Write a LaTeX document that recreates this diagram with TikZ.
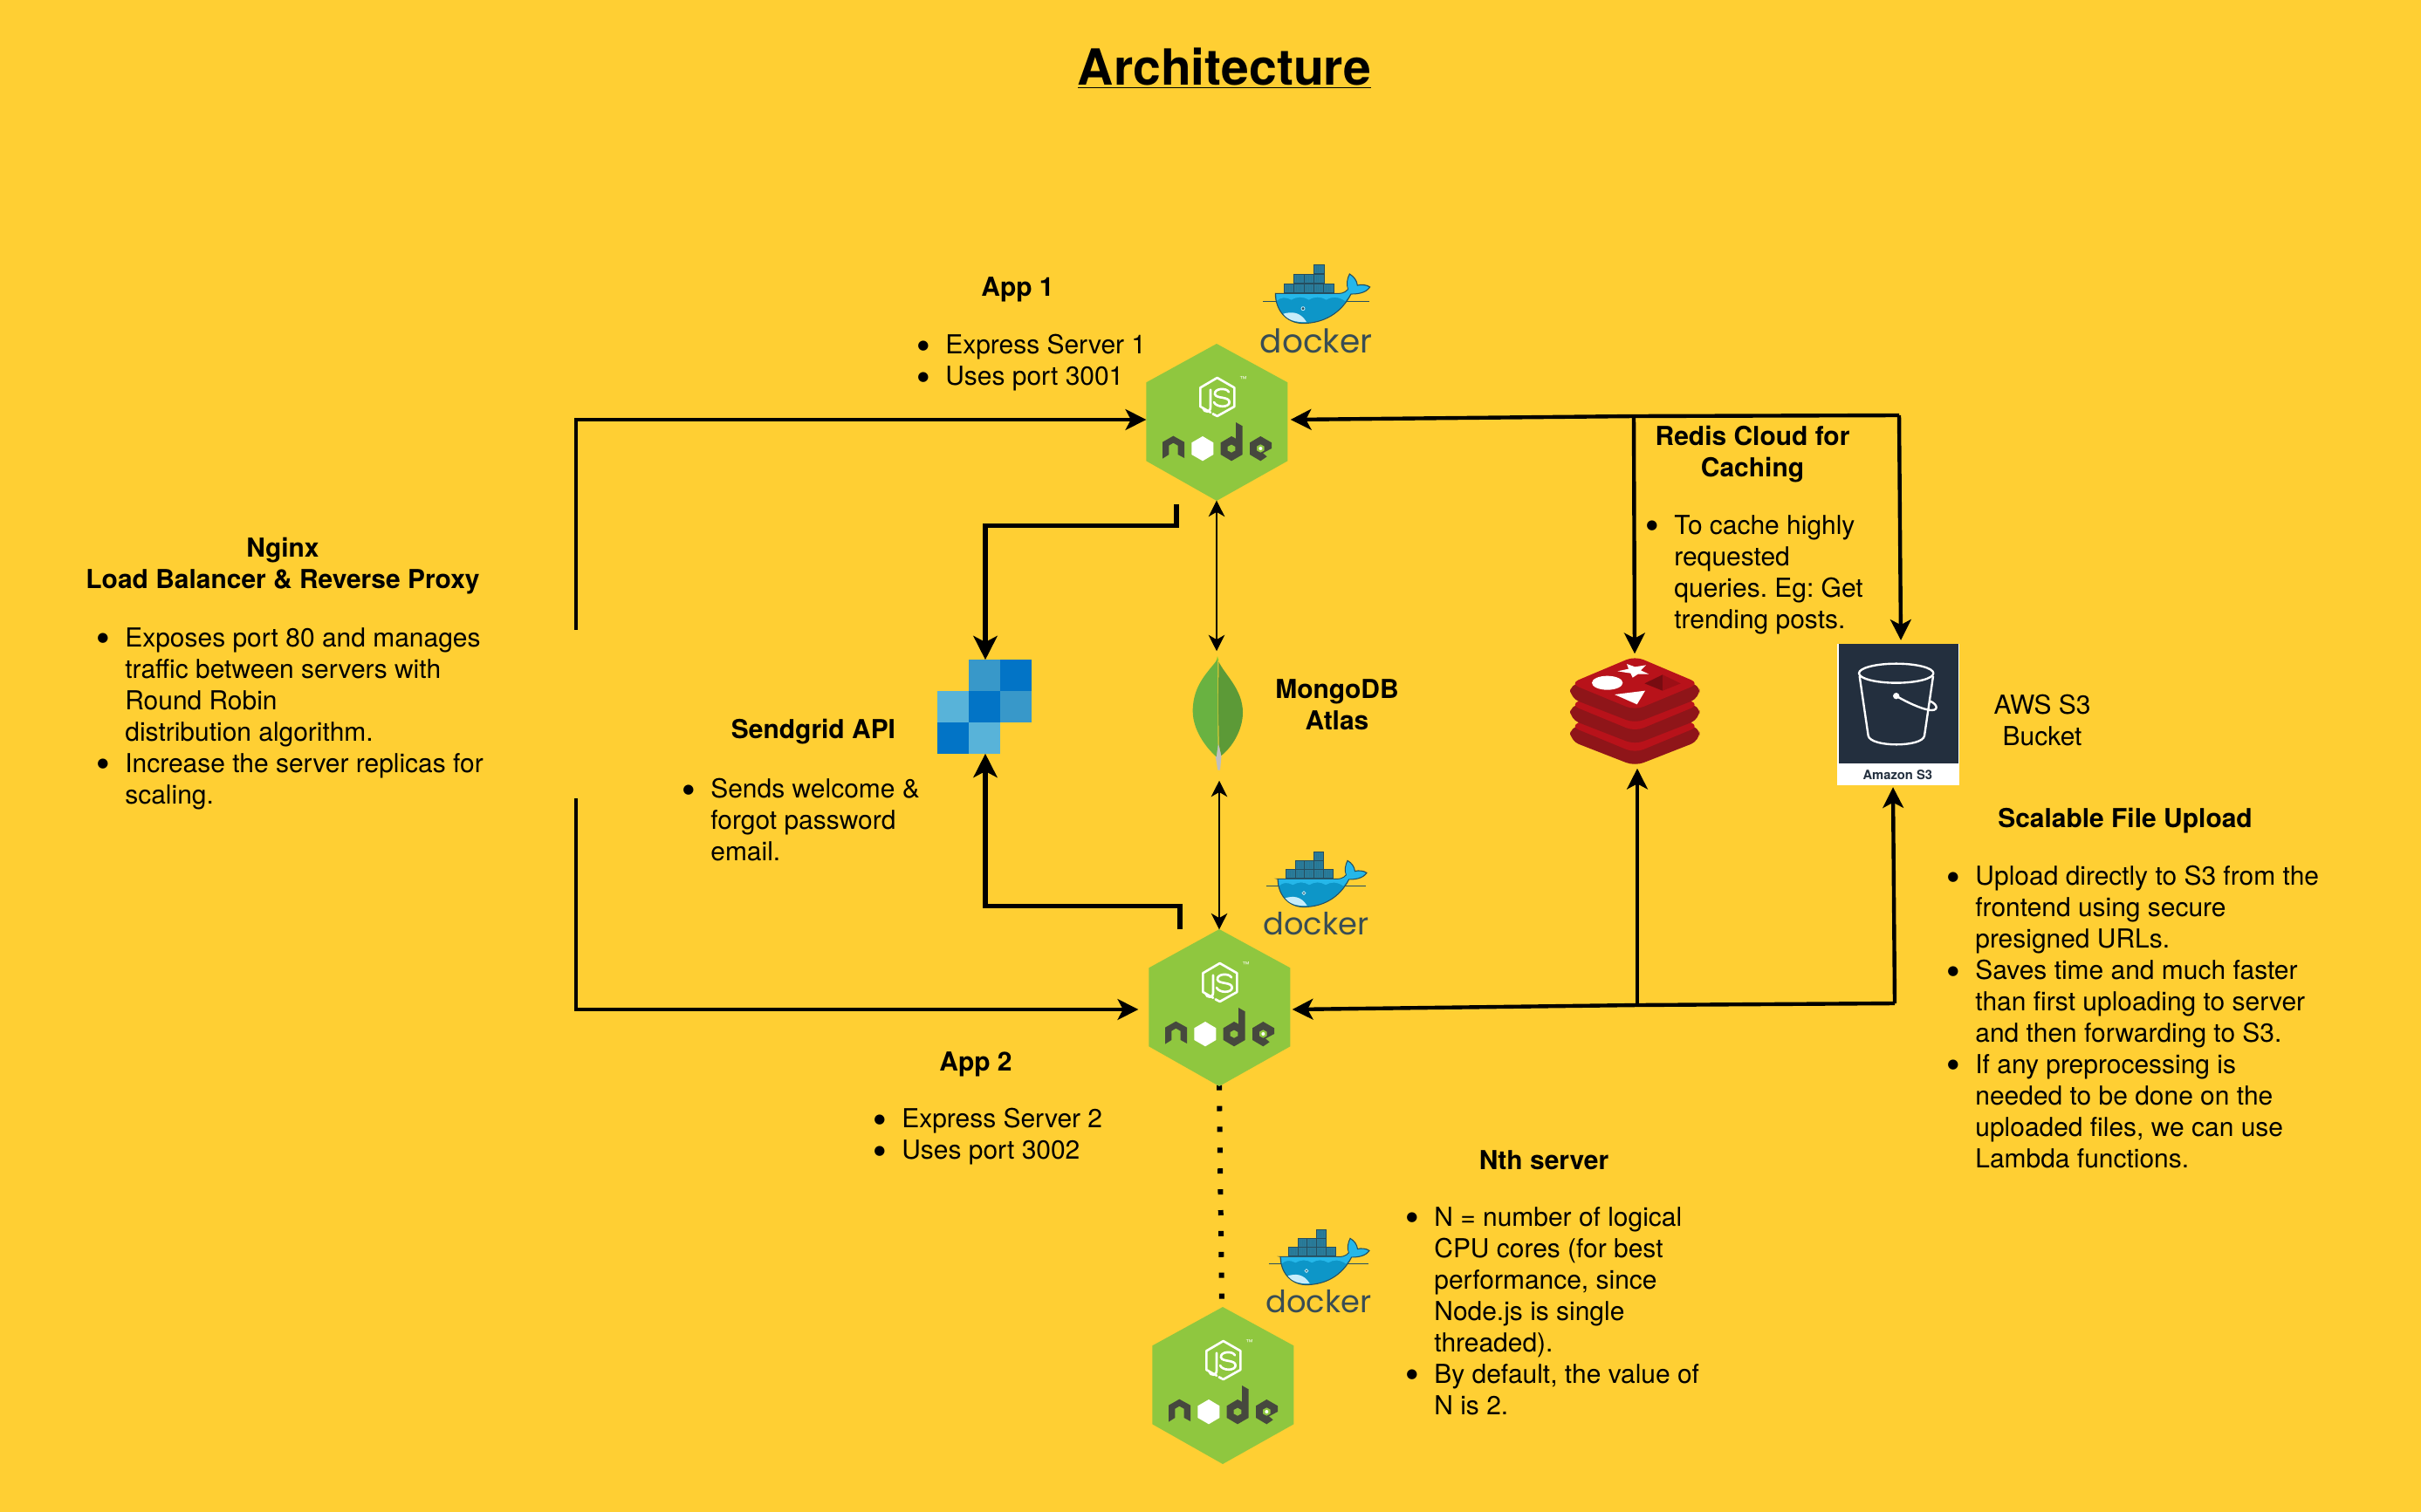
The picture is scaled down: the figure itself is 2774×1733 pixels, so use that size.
\documentclass[tikz,border=0pt]{standalone}
\usepackage{fontspec}
\setmainfont{TeX Gyre Heros}
\newfontfamily\dockerfont{Poppins}
\newfontfamily\bulletfont{DejaVu Sans}
\usetikzlibrary{arrows.meta,calc}
\frenchspacing
\definecolor{bgyellow}{HTML}{FFCF33}
\definecolor{nodegreen}{HTML}{8FC73F}
\definecolor{nodedark}{HTML}{46483E}
\definecolor{dockertxt}{HTML}{394D54}
\definecolor{dockerdeep}{HTML}{0D96C8}
\definecolor{dockerlight}{HTML}{25B7E9}
\definecolor{dockerbox}{HTML}{2B7B99}
\definecolor{dockerline}{HTML}{254E5F}
\definecolor{sgdark}{HTML}{0274C6}
\definecolor{sgmid}{HTML}{3898C9}
\definecolor{sglight}{HTML}{58B3D9}
\definecolor{redistop}{HTML}{B8121A}
\definecolor{redisside}{HTML}{8F1519}
\definecolor{awsdark}{HTML}{232F3E}
\definecolor{leafleft}{HTML}{69B241}
\definecolor{leafright}{HTML}{5C9A37}
\definecolor{leafstem}{HTML}{BFBFBF}
\newcommand{\bl}{\llap{\raisebox{3.2pt}{\fontsize{8.5}{8.5}\bulletfont ●}\hspace{10.75pt}}}
\tikzset{
  x=0.02cm,y=-0.02cm,
  bodytext/.style={inner sep=0,font=\fontsize{17.05}{20.47}\selectfont},
  listtext/.style={bodytext,anchor=north west,align=left},
  headtext/.style={bodytext,align=center,font=\fontsize{17.05}{20.47}\selectfont\bfseries},
  conn/.style={line width=2.5pt,-{Stealth[length=13.5pt,width=13.5pt,inset=3.5pt]}},
  heavy/.style={line width=3pt,-{Stealth[length=15.5pt,width=15.5pt,inset=4pt]}},
  thin2/.style={line width=1.5pt,{Stealth[length=10.5pt,width=10.5pt,inset=3pt]}-{Stealth[length=10.5pt,width=10.5pt,inset=3pt]}},
  holder/.style args={#1x#2}{inner sep=0,outer sep=0,minimum width=#1*0.5669pt,minimum height=#2*0.5669pt},
  nodehex/.pic={
    \begin{scope}[scale=1/3,shift={(-461,-612)}]
      \fill[nodegreen] (461,342)--(705,475)--(705,745)--(461,882)--(219,745)--(219,475)--cycle;
      \draw[white,line width=1.5pt,line join=round,line cap=round]
        (440,578)--(405,558)--(405,493)--(463,459)--(522,493)--(522,558)--(463,591)--(448,583);
      \draw[white,line width=1.5pt,line cap=round]
        (440,500)--(440,560) .. controls (440,580) and (418,578) .. (415,565);
      \draw[white,line width=1.5pt,line cap=round]
        (503,508) .. controls (495,492) and (452,495) .. (455,515) .. controls (458,532) and (505,522) .. (505,543) .. controls (505,562) and (460,562) .. (452,543);
      \fill[nodedark] (275,680)--(312,659)--(350,680)--(350,735)--(328,723)--(328,692)--(312,683)--(297,692)--(297,723)--(275,737)--cycle;
      \fill[white] (413,660)--(450,682)--(450,723)--(413,745)--(375,723)--(375,682)--cycle;
      \fill[nodedark] (475,682)--(512,660)--(527,668)--(527,612)--(550,625)--(550,723)--(512,745)--(475,723)--cycle;
      \fill[nodegreen] (512,689)--(525,696)--(525,709)--(512,716)--(499,709)--(499,696)--cycle;
      \fill[nodedark] (575,682)--(612,660)--(650,682)--(650,702)--(620,718)--(634,730)--(612,745)--(575,723)--cycle;
      \fill[nodegreen] (612,688)--(625,695)--(625,709)--(612,716)--(599,709)--(599,695)--cycle;
      \fill[white] (612,702) circle (6);
      \node[white,inner sep=0,transform shape,font=\fontsize{14}{14}\selectfont] (-tm) at (552,463) {\texttrademark};
    \end{scope}
  },
  dockericon/.pic={
    \begin{scope}[scale={#1/3},shift={(-805,-220)}]
      \foreach \bx/\by in {695/136,729/136,763/136,797/136,831/136,729/103,763/103,797/103,797/70}{
        \filldraw[fill=dockerbox,draw=dockerline,line width=.5pt] (\bx,\by) rectangle ++(35,32);
        \foreach \s in {8,16,24}{\draw[dockerline!60!dockerlight,line width=.3pt] (\bx+\s,\by+5)--(\bx+\s,\by+27);}
      }
      \draw[dockerline,line width=.5pt] (622,196)--(988,196);
      \filldraw[fill=dockerdeep,draw=dockerline,line width=.6pt] (665,170)--(868,170) .. controls (885,172) and (905,170) .. (915,155) .. controls (908,140) and (912,118) .. (920,103) .. controls (935,112) and (945,125) .. (947,142) .. controls (960,138) and (980,140) .. (990,148) .. controls (975,170) and (945,172) .. (925,172) .. controls (890,240) and (830,272) .. (760,273) .. controls (700,272) and (665,225) .. cycle;
      \fill[dockerlight] (668,172)--(868,172) .. controls (885,174) and (905,172) .. (917,157) .. controls (910,140) and (914,120) .. (921,107) .. controls (933,115) and (943,127) .. (945,145) .. controls (960,141) and (976,143) .. (986,149) .. controls (972,167) and (945,170) .. (923,170) .. controls (918,180) and (912,188) .. (905,196)
        .. controls (880,180) and (860,180) .. (840,192) .. controls (820,180) and (800,180) .. (780,192) .. controls (760,180) and (740,180) .. (720,192) .. controls (700,182) and (685,182) .. (670,195) -- cycle;
      \fill[white!75!dockerlight] (692,240) .. controls (720,232) and (750,232) .. (772,268) .. controls (735,270) and (708,262) .. cycle;
      \filldraw[fill=dockerline,draw=white!70!dockerlight,line width=.5pt] (760,222) circle (6);
      \node[dockertxt,inner sep=0,transform shape,font=\fontsize{64}{64}\dockerfont] (-dk) at (805,334) {docker};
    \end{scope}
  },
}
\begin{document}
\begin{tikzpicture}
\useasboundingbox (0,0) rectangle (2774,1733);
\fill[bgyellow] (0,0) rectangle (2774,1733);

% title
\node[inner sep=0,font=\fontsize{32.5}{38}\selectfont\bfseries] (title) at (1403,78) {\underline{Architecture}};

% node hexagons (logo holders)
\node[holder=162x180] (app1) at (1394,484) {};
\node[holder=162x180] (app2) at (1397,1155) {};
\node[holder=162x180] (app3) at (1401,1588) {};

\draw[line width=3.4pt,dash pattern=on 3.4pt off 10.2pt] ($(app2.south)+(0,-1)$) -- ($(app3.north)+(-1,-2)$);

\pic (h1) at (1394,484) {nodehex};
\pic (h2) at (1397,1155) {nodehex};
\pic (h3) at (1401,1588) {nodehex};

\pic (d1) at (1508,353) {dockericon=1};
\pic (d2) at (1508,1023) {dockericon=0.94};
\pic (d3) at (1511,1456) {dockericon=0.94};

% sendgrid
\node[holder=108x108] (sendgrid) at (1129,810) {};
\fill[sgmid]   (1110,756) rectangle (1146,792);
\fill[sgdark]  (1146,756) rectangle (1182,792);
\fill[sglight] (1074,792) rectangle (1110,828);
\fill[sgdark]  (1110,792) rectangle (1146,828);
\fill[sgmid]   (1146,792) rectangle (1182,828);
\fill[sgdark]  (1074,828) rectangle (1110,864);
\fill[sglight] (1110,828) rectangle (1146,864);

% mongodb leaf
\node[holder=58x132] (mongo) at (1396,819) {};
\begin{scope}[shift={(1040,720)},scale=1/3]
  \fill[leafleft!60!yellow] (1060,112)--(1065,96)--(1070,112)--cycle;
  \fill[leafstem] (1067,395)--(1058,440)--(1066,488)--(1074,488)--(1079,435)--cycle;
  \fill[leafleft] (1066,105) .. controls (1040,145) and (980,190) .. (980,285) .. controls (980,350) and (1025,410) .. (1061,442) -- (1067,400) -- (1065,300) -- cycle;
  \fill[leafright] (1069,115) .. controls (1090,160) and (1152,210) .. (1152,290) .. controls (1152,350) and (1115,410) .. (1078,438) -- (1070,400) -- (1068,300) -- cycle;
  \fill[leafleft!50!bgyellow] (1066,110) -- (1065,300) -- (1067,400) -- (1070,400) -- (1068,300) -- cycle;
\end{scope}

% redis
\node[holder=148x124] (redis) at (1873,815) {};
\begin{scope}[shift={(1760,720)},scale=1/3]
  \foreach \dy in {147,73,0}{
    \fill[redisside,rounded corners=6pt] (117,190+\dy)--(117,240+\dy)--(340,327+\dy)--(562,240+\dy)--(562,190+\dy)--cycle;
    \fill[redistop,rounded corners=6pt] (340,96+\dy)--(562,190+\dy)--(340,282+\dy)--(117,190+\dy)--cycle;
  }
  \fill[white] (312,123)--(340,133)--(378,127)--(360,145)--(388,158)--(350,158)--(332,170)--(325,155)--(280,148)--(318,140)--cycle;
  \fill[white] (245,188) ellipse (53 and 24);
  \fill[white] (270,228)--(375,215)--(347,262)--cycle;
  \fill[redistop!65!black] (373,190)--(435,160)--(435,215)--cycle;
  \fill[redistop!85!black] (435,160)--(497,190)--(435,215)--cycle;
\end{scope}

% s3
\node[holder=140x163,fill=white] (s3) at (2175,819) {};
\begin{scope}[shift={(1760,720)},scale=1/3]
  \fill[awsdark] (1041,55) rectangle (1451,465);
  \begin{scope}[draw=white,line width=1.35pt,line join=round]
    \draw (1238,155) ellipse (128 and 33);
    \draw (1112,165)--(1142,370) .. controls (1150,410) and (1328,410) .. (1335,370)--(1365,165);
    \draw (1238,233) .. controls (1275,255) and (1320,275) .. (1345,280) .. controls (1385,290) and (1385,262) .. (1352,250);
    \fill[white] (1238,233) circle (11);
  \end{scope}
  \node[awsdark,inner sep=0,font=\fontsize{8.4}{10}\selectfont\bfseries] (s3label) at (1243,503) {Amazon S3};
\end{scope}

% connectors
\coordinate (lbtop) at (660,722);
\coordinate (lbbot) at (660,915);
\draw[conn] (lbtop) -- (660,481) -- (app1.west |- 0,481);
\draw[conn] (lbbot) -- (660,1157) -- ($(app2.west)+(-12,2)$);

\coordinate (t1) at (1872,477);
\coordinate (t2) at (2176,476);
\draw[conn] (t2) -- (t1) -- ($(app1.east)+(4,-3)$);
\draw[conn] (t1) -- ($(redis.north)+(0,-4)$);
\draw[conn] (t2) -- ($(s3.north)+(3,-4)$);

\coordinate (b1) at (1876,1152);
\coordinate (b2) at (2171,1150);
\draw[conn] (b2) -- (b1) -- ($(app2.east)+(3,2)$);
\draw[conn] (b1) -- ($(redis.south)+(3,4)$);
\draw[conn] (b2) -- ($(s3.south)+(-6,2)$);

\draw[heavy] ($(app1.south)+(-46,4)$) -- ++(0,25) -| (sendgrid.north);
\draw[heavy] ($(app2.north)+(-45,0)$) -- ++(0,-27) -| (sendgrid.south);

\draw[thin2] (app1.south) -- ($(mongo.north)+(-2,-7)$);
\draw[thin2] ($(mongo.south)+(1,10)$) -- (app2.north);

% text
\node[headtext] (nginxT) at (324,649) {Nginx\\Load Balancer \& Reverse Proxy};
\node[listtext] (nginxL) at (143,719) {\bl Exposes port 80 and manages\\traffic between servers with\\Round Robin\\distribution algorithm.\\\bl Increase the server replicas for\\scaling.};

\node[headtext] (app1T) at (1166,332) {App 1};
\node[listtext] (app1L) at (1083,383) {\bl Express Server 1\\\bl Uses port 3001};

\node[headtext] (app2T) at (1118,1220) {App 2};
\node[listtext] (app2L) at (1033,1270) {\bl Express Server 2\\\bl Uses port 3002};

\node[headtext] (nthT) at (1769,1330) {Nth server};
\node[listtext] (nthL) at (1643,1383) {\bl N = number of logical\\CPU cores (for best\\performance, since\\Node.js is single\\threaded).\\\bl By default, the value of\\N is 2.};

\node[headtext] (sgT) at (932,839) {Sendgrid API};
\node[listtext] (sgL) at (814,892) {\bl Sends welcome \&\\forgot password\\email.};

\node[headtext] (mongoT) at (1532,808) {MongoDB\\Atlas};

\node[headtext] (redisT) at (2008,521) {Redis Cloud for\\Caching};
\node[listtext] (redisL) at (1918,590) {\bl To cache highly\\requested\\queries. Eg: Get\\trending posts.};

\node[bodytext,align=center] (awsT) at (2340,826) {AWS S3\\Bucket};

\node[headtext] (scaleT) at (2435,941) {Scalable File Upload};
\node[listtext] (scaleL) at (2263,992) {\bl Upload directly to S3 from the\\frontend using secure\\presigned URLs.\\\bl Saves time and much faster\\than first uploading to server\\and then forwarding to S3.\\\bl If any preprocessing is\\needed to be done on the\\uploaded files, we can use\\Lambda functions.};
\end{tikzpicture}
\end{document}
